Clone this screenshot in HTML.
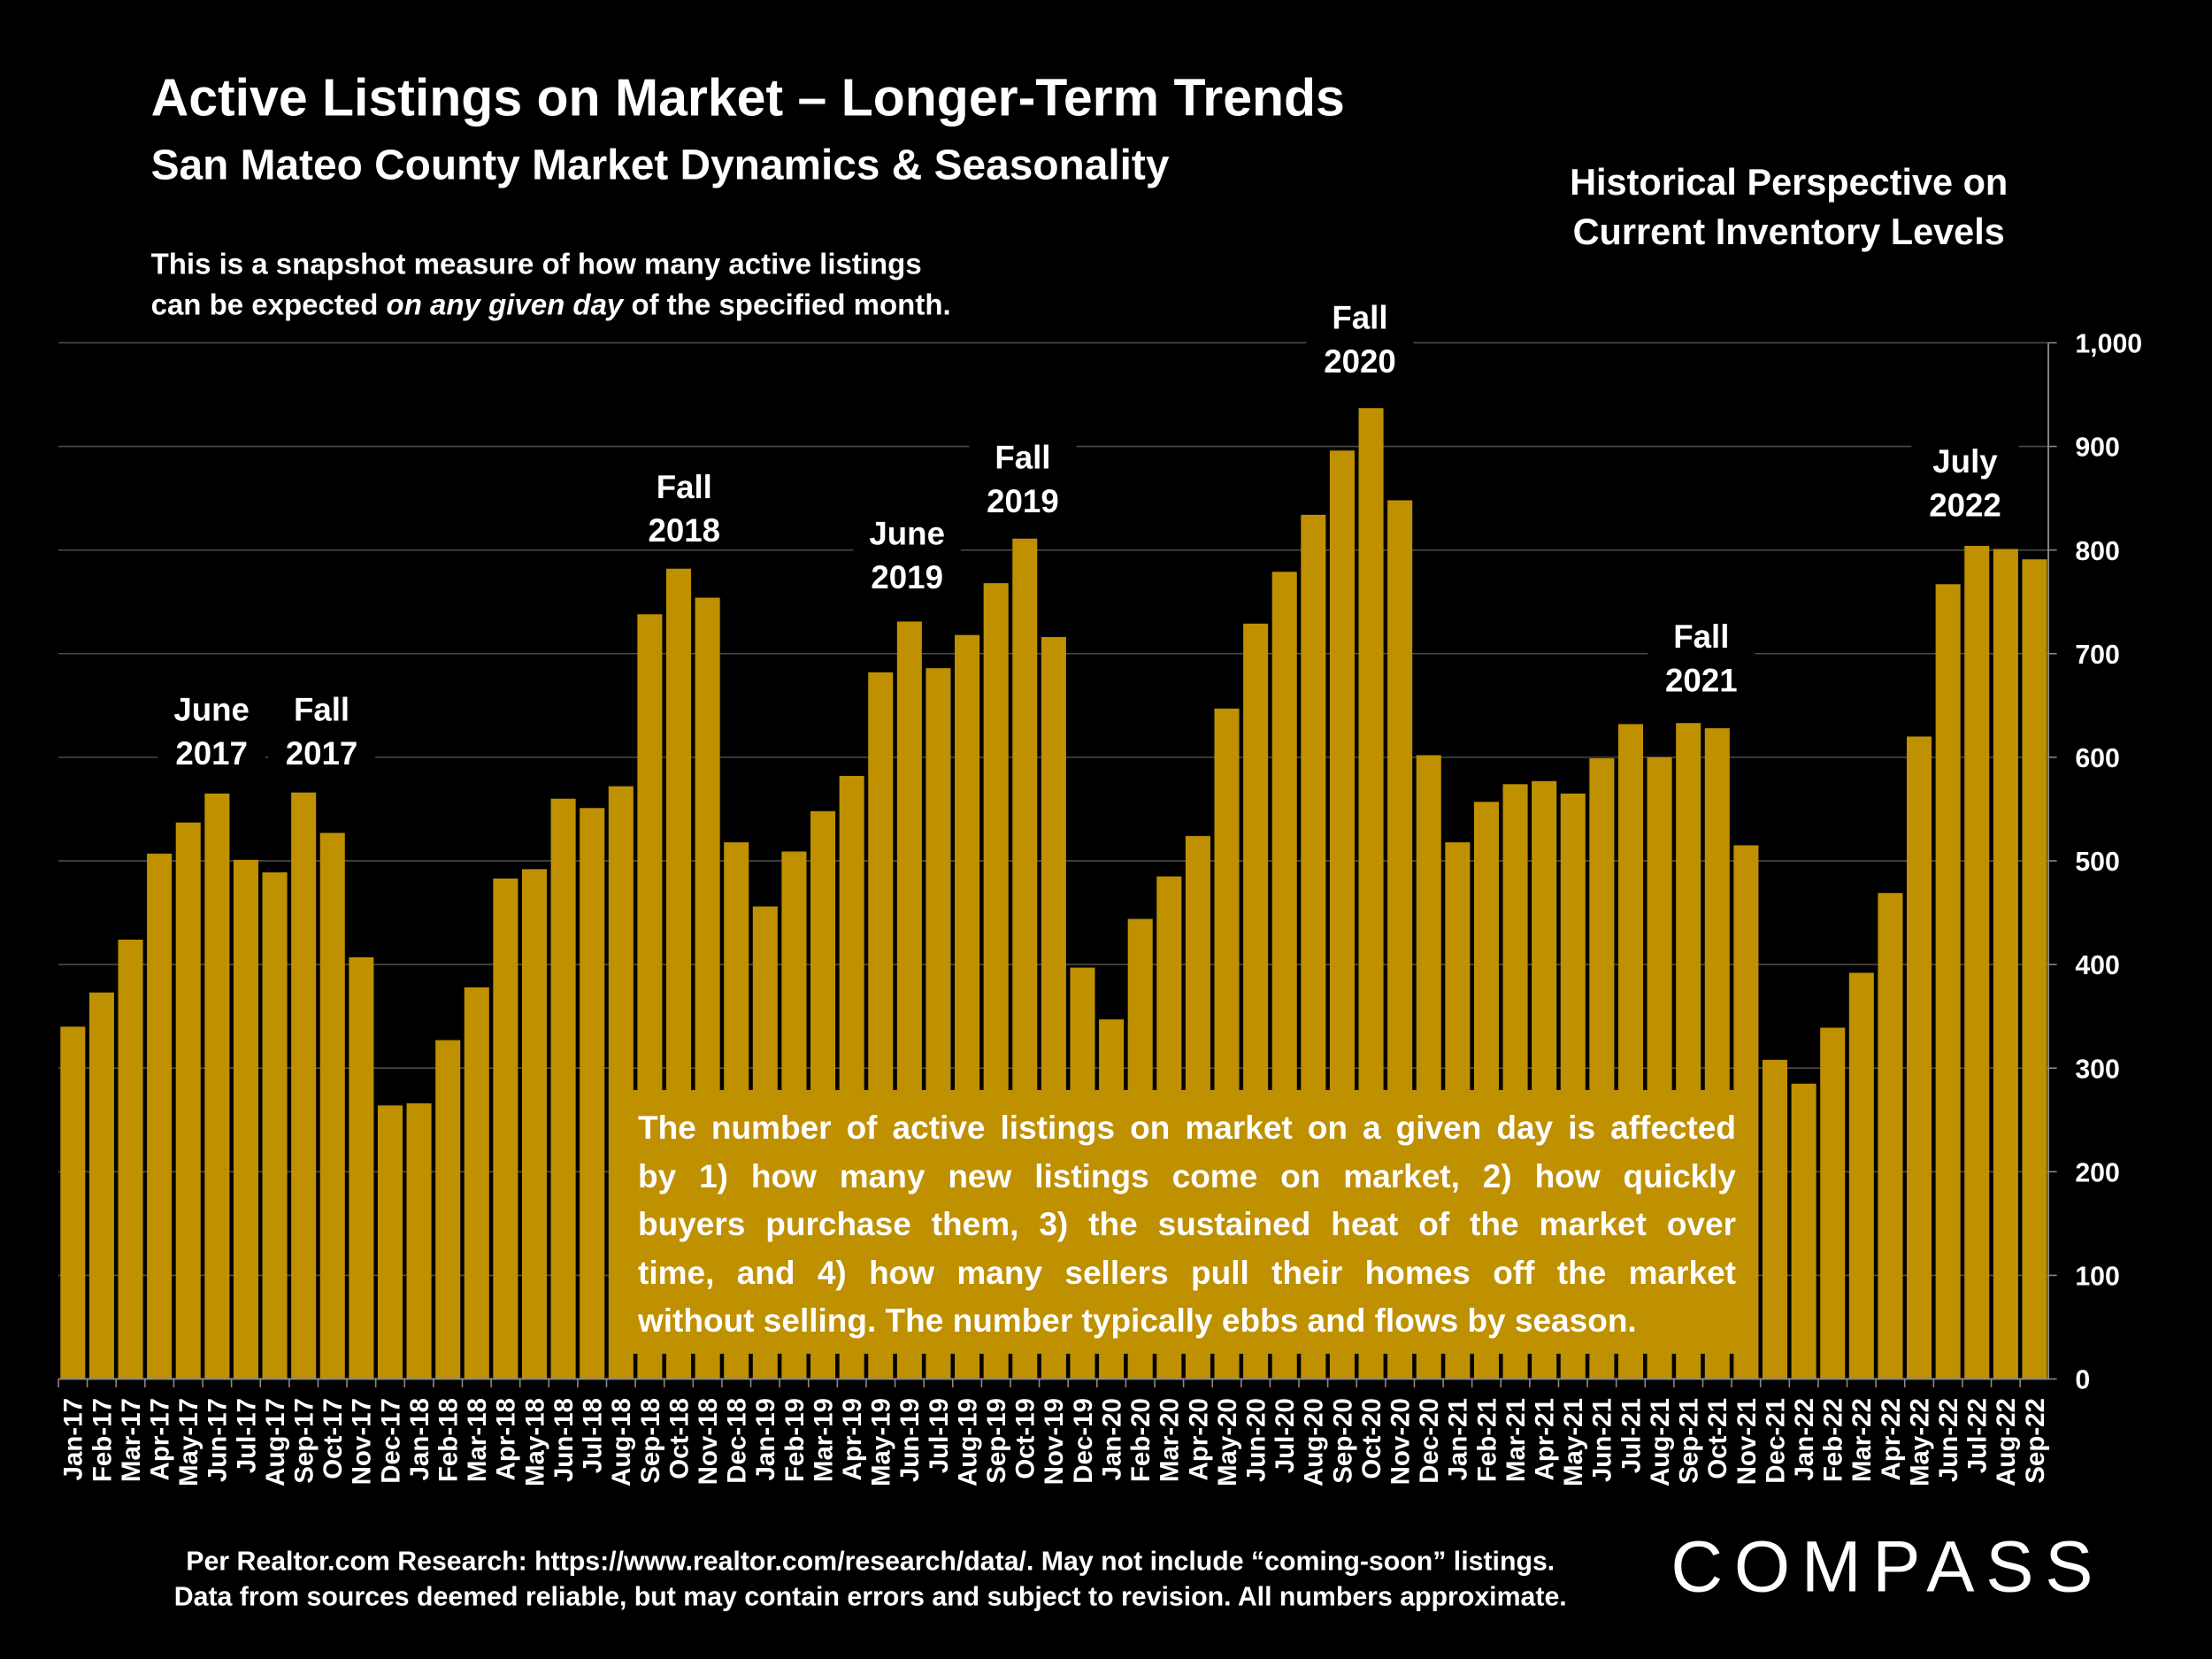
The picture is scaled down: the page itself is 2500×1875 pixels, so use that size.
<!DOCTYPE html>
<html><head><meta charset="utf-8"><style>
html,body{margin:0;padding:0;background:#000;}
body{position:relative;width:2500px;height:1875px;overflow:hidden;}
svg{display:block;position:absolute;left:0;top:0;}
text{font-family:"Liberation Sans",sans-serif;fill:#fff;}
#explain{position:absolute;left:701px;top:1232px;width:1283px;height:298px;background:#BF9000;box-sizing:border-box;padding:16px 22px 0 20px;color:#fff;font-family:"Liberation Sans",sans-serif;font-weight:bold;font-size:37px;line-height:54.5px;}
#explain div{text-align:justify;text-align-last:justify;white-space:nowrap;}
#explain div.last{text-align-last:left;}
</style></head><body>
<svg id="chart" width="2500" height="1875" viewBox="0 0 1568 1176" xmlns="http://www.w3.org/2000/svg">
<rect x="0" y="0" width="1568" height="1176" fill="#000"/>
<g id="grid"></g>
<g id="bars"></g>
<g id="axes"></g>
<g id="annot"></g>
<text x="107" y="82" font-size="37" font-weight="bold">Active Listings on Market – Longer-Term Trends</text>
<text x="107" y="127" font-size="30" font-weight="bold">San Mateo County Market Dynamics &amp; Seasonality</text>
<text x="107" y="194" font-size="20.7" font-weight="bold">This is a snapshot measure of how many active listings</text>
<text x="107" y="223" font-size="20.7" font-weight="bold">can be expected <tspan font-style="italic">on any given day</tspan> of the specified month.</text>
<text x="1268" y="138" font-size="26" font-weight="bold" text-anchor="middle">Historical Perspective on</text>
<text x="1268" y="173" font-size="26" font-weight="bold" text-anchor="middle">Current Inventory Levels</text>
<text x="617" y="1113" font-size="19" font-weight="bold" text-anchor="middle">Per Realtor.com Research:  https://www.realtor.com/research/data/. May not include “coming-soon” listings.</text>
<text x="617" y="1138" font-size="19" font-weight="bold" text-anchor="middle">Data from sources deemed reliable, but may contain errors and subject to revision. All numbers approximate.</text>
<text x="1338" y="1128" font-size="51" text-anchor="middle" letter-spacing="8">COMPASS</text>
</svg>
<div id="explain">
<div>The number of active listings on market on a given day is affected</div>
<div>by 1) how many new listings come on market, 2) how quickly</div>
<div>buyers purchase them, 3) the sustained heat of the market over</div>
<div>time, and 4) how many sellers pull their homes off the market</div>
<div class="last">without selling. The number typically ebbs and flows by season.</div>
</div>
<script>
const categories=[];
const months=["Jan","Feb","Mar","Apr","May","Jun","Jul","Aug","Sep","Oct","Nov","Dec"];
for(let y=17;y<=22;y++)for(let m=0;m<12;m++){if(y===22&&m>8)break;categories.push(months[m]+"-"+y);}
const listings=[340,373,424,507,537,565,501,489,566,527,407,264,
266,327,378,483,492,560,551,572,738,782,754,518,
456,509,548,582,682,731,686,718,768,811,716,397,
347,444,485,524,647,729,779,834,896,937,848,602,
518,557,574,577,565,599,632,600,633,628,515,308,
285,339,392,469,620,767,804,801,791];
const yTicks=[0,100,200,300,400,500,600,700,800,900,1000];
const yTickLabels=["0","100","200","300","400","500","600","700","800","900","1,000"];
const annotLabels=[["June","2017"],["Fall","2017"],["Fall","2018"],["June","2019"],["Fall","2019"],["Fall","2020"],["Fall","2021"],["July","2022"]];
const annotX=[150,228,485,643,725,964,1206,1393];
const annotY=[503,503,345,378,324,225,451,327];

const NS="http://www.w3.org/2000/svg";
const x0=41.4,pitch=20.45,barW=17.6,y0=977.5,yScale=0.7345,xRight=1452;
const xPos=i=>x0+pitch*i;
const yPos=v=>y0-v*yScale;
function mk(tag,attrs,parent){const e=document.createElementNS(NS,tag);for(const k in attrs)e.setAttribute(k,attrs[k]);parent.appendChild(e);return e;}
const grid=document.getElementById('grid'),bars=document.getElementById('bars'),axes=document.getElementById('axes'),annot=document.getElementById('annot');
yTicks.forEach((t,i)=>{
  if(t>0){const l=mk('line',{x1:x0,x2:xRight,y1:yPos(t),y2:yPos(t),stroke:'#4a4a4a','stroke-width':1},grid);
  
  }
  const tk=mk('line',{x1:xRight,x2:xRight+6,y1:yPos(t),y2:yPos(t),stroke:'#888','stroke-width':1},axes);
  
  
  const tx=mk('text',{x:xRight+19,y:yPos(t)+7,'font-size':19,'font-weight':'bold'},axes);
  
  
  tx.textContent=yTickLabels[i];
});
listings.forEach((v,i)=>{
  const r=mk('rect',{x:xPos(i)+(pitch-barW)/2,y:yPos(v),width:barW,height:v*yScale,fill:'#BF9000'},bars);
  
  
});
const ax=mk('line',{x1:x0,x2:xRight,y1:y0,y2:y0,stroke:'#888','stroke-width':1.2},axes);


const ay=mk('line',{x1:xRight,x2:xRight,y1:yPos(1000),y2:y0,stroke:'#888','stroke-width':1.2},axes);


categories.forEach((c,i)=>{
  const tk=mk('line',{x1:xPos(i),x2:xPos(i),y1:y0,y2:y0+6,stroke:'#888','stroke-width':1},axes);
  
  
  const cx=xPos(i)+pitch/2+6.5;
  const tx=mk('text',{x:cx,y:991,'font-size':18.5,'font-weight':'bold','text-anchor':'end',transform:`rotate(-90 ${cx} 991)`},axes);
  
  
  tx.textContent=c;
});
annotLabels.forEach((lab,k)=>{
  const cx=annotX[k], top=annotY[k];
  const bg=mk('rect',{x:cx-38,y:top-26,width:76,height:70,fill:'#000'},annot);
  
  
  lab.forEach((s,j)=>{
    const t=mk('text',{x:cx,y:top+8+j*31,'font-size':23,'font-weight':'bold','text-anchor':'middle'},annot);
    
    
    t.textContent=s;
  });
});
</script>
</body></html>
